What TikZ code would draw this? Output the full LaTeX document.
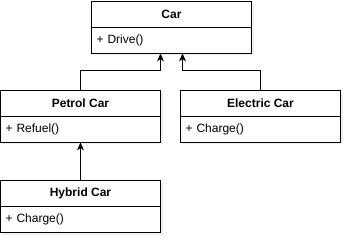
\documentclass[tikz,border=0pt]{standalone}
\usepackage{fontspec}
\setmainfont{Liberation Sans}
\usetikzlibrary{positioning,arrows.meta,shadows}

\begin{document}
\begin{tikzpicture}[
		x=1pt,
		y=1pt,
		line cap=rect,
		line join=miter,
		>={Stealth[length=8pt,width=7pt,inset=2.5pt]},
		classhead/.style={
			draw, fill=white, line width=0.9pt, outer sep=0pt,
			minimum width=160pt, minimum height=26pt,
			inner sep=0pt, font=\fontsize{12}{14}\selectfont\bfseries,
			drop shadow={shadow xshift=2pt, shadow yshift=-2pt, opacity=0.12}
		},
		classbody/.style={
			draw, fill=white, line width=0.9pt, outer sep=0pt,
			minimum width=160pt, minimum height=26pt,
			text width=150pt, inner xsep=5pt, inner ysep=0pt, align=left,
			font=\fontsize{12}{14}\selectfont,
			drop shadow={shadow xshift=2pt, shadow yshift=-2pt, opacity=0.12}
		},
		inherit/.style={->, line width=0.9pt, shorten >=0.45pt}
		]
		
		\useasboundingbox (0,0) rectangle (347,242);
		
		%------------------------------------------------------------------
		% Classes
		%------------------------------------------------------------------
		\node[classhead, anchor=north] (car) at (171.5,241) {Car};
		\node[classbody, below=0pt of car] (carbody) {+ Drive()};
		
		\node[classhead, anchor=north] (petrol) at (80.5,152) {Petrol Car};
		\node[classbody, below=0pt of petrol] (petrolbody) {+ Refuel()};
		
		\node[classhead, anchor=north] (electric) at (260.5,152) {Electric Car};
		\node[classbody, below=0pt of electric] (electricbody) {+ Charge()};
		
		\node[classhead, anchor=north] (hybrid) at (80.5,61.3) {Hybrid Car};
		\node[classbody, below=0pt of hybrid] (hybridbody) {+ Charge()};
		
		%------------------------------------------------------------------
		% Inheritance arrows
		%------------------------------------------------------------------
		\draw[inherit] (petrol.north) -- ++(0,20) -| ([xshift=-11pt]carbody.south);
		\draw[inherit] (electric.north) -- ++(0,20) -| ([xshift=11pt]carbody.south);
		\draw[inherit] (hybrid.north) -- (petrolbody.south);
		
	\end{tikzpicture}
\end{document}
